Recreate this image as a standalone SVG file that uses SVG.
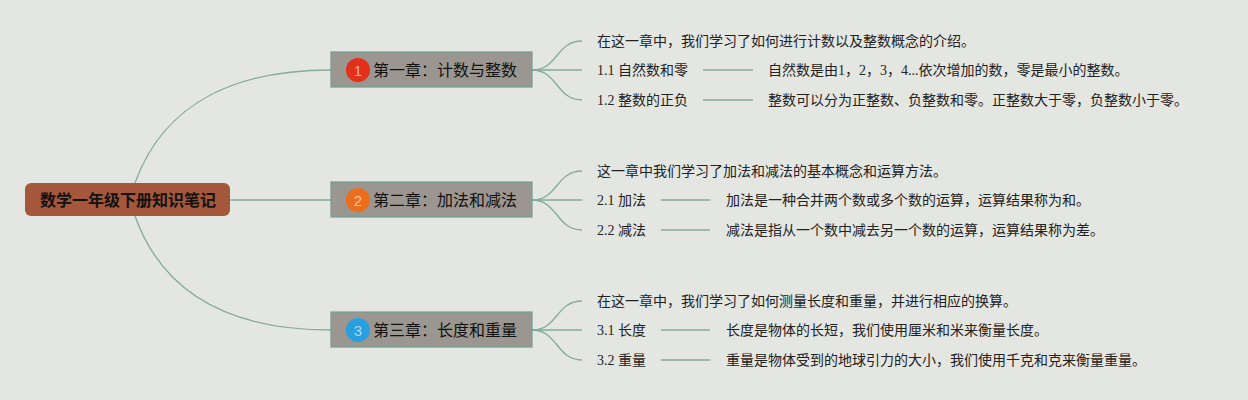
<svg xmlns="http://www.w3.org/2000/svg" width="1248" height="400" viewBox="0 0 1248 400">
<style>
.bg{fill:#e4e6e2}
.ln{fill:none;stroke:#82ab9d;stroke-width:1.3}
.root rect{fill:#a5573b}
.root text{font-family:"Noto Sans CJK SC","Noto Sans",sans-serif;font-size:16px;font-weight:bold;fill:#111}
.ch rect{fill:#9b968f;stroke:#6f9e94;stroke-width:1.2}
.ch text.t{font-family:"Noto Sans CJK SC","Noto Sans",sans-serif;font-size:16px;fill:#111}
.ch text.n{font-family:"Liberation Sans",sans-serif;font-size:15px;fill:#ffffff;fill-opacity:0.6;text-anchor:middle}
.lf text{font-family:"Liberation Serif","Noto Sans CJK SC",serif;font-size:14px;fill:#222}
</style>
<rect class="bg" x="0" y="0" width="1248" height="400"/>
<g id="connectors">
<path class="ln" d="M230,200 L331,200"/>
<path class="ln" d="M135,183 C165,100 240,70 331,70"/>
<path class="ln" d="M135,216 C165,300 240,330 331,330"/>
<path class="ln" d="M532,70 C558,70 556,41 582,41"/>
<path class="ln" d="M532,70 L582,70"/>
<path class="ln" d="M532,70 C558,70 556,100 582,100"/>
<path class="ln" d="M703,70 L753,70"/>
<path class="ln" d="M703,100 L753,100"/>
<path class="ln" d="M532,200 C558,200 556,171 582,171"/>
<path class="ln" d="M532,200 L582,200"/>
<path class="ln" d="M532,200 C558,200 556,230 582,230"/>
<path class="ln" d="M661,200 L710,200"/>
<path class="ln" d="M661,230 L710,230"/>
<path class="ln" d="M532,330 C558,330 556,301 582,301"/>
<path class="ln" d="M532,330 L582,330"/>
<path class="ln" d="M532,330 C558,330 556,360 582,360"/>
<path class="ln" d="M661,330 L710,330"/>
<path class="ln" d="M661,360 L710,360"/>
</g>
<g id="root" class="root">
<rect x="25" y="183" width="205" height="33" rx="6"/>
<text x="128" y="206" text-anchor="middle">数学一年级下册知识笔记</text>
</g>
<g id="ch1" class="ch">
<rect x="331" y="52" width="201" height="35"/>
<circle cx="358" cy="70" r="12" fill="#e2301b"/>
<text class="n" x="358" y="75.5">1</text>
<text class="t" x="373" y="75.5">第一章：计数与整数</text>
</g>
<g id="ch2" class="ch">
<rect x="331" y="182" width="201" height="35"/>
<circle cx="358" cy="200" r="12" fill="#ec6e1c"/>
<text class="n" x="358" y="205.5">2</text>
<text class="t" x="373" y="205.5">第二章：加法和减法</text>
</g>
<g id="ch3" class="ch">
<rect x="331" y="312" width="201" height="35"/>
<circle cx="358" cy="330" r="12" fill="#2a9fe0"/>
<text class="n" x="358" y="335.5">3</text>
<text class="t" x="373" y="335.5">第三章：长度和重量</text>
</g>
<g id="ch1-intro" class="lf"><text x="597" y="46">在这一章中，我们学习了如何进行计数以及整数概念的介绍。</text></g>
<g id="n1-1" class="lf"><text x="597" y="75">1.1 自然数和零</text></g>
<g id="n1-1d" class="lf"><text x="768" y="75">自然数是由1，2，3，4...依次增加的数，零是最小的整数。</text></g>
<g id="n1-2" class="lf"><text x="597" y="105">1.2 整数的正负</text></g>
<g id="n1-2d" class="lf"><text x="768" y="105">整数可以分为正整数、负整数和零。正整数大于零，负整数小于零。</text></g>
<g id="ch2-intro" class="lf"><text x="597" y="176">这一章中我们学习了加法和减法的基本概念和运算方法。</text></g>
<g id="n2-1" class="lf"><text x="597" y="205">2.1 加法</text></g>
<g id="n2-1d" class="lf"><text x="726" y="205">加法是一种合并两个数或多个数的运算，运算结果称为和。</text></g>
<g id="n2-2" class="lf"><text x="597" y="235">2.2 减法</text></g>
<g id="n2-2d" class="lf"><text x="726" y="235">减法是指从一个数中减去另一个数的运算，运算结果称为差。</text></g>
<g id="ch3-intro" class="lf"><text x="597" y="306">在这一章中，我们学习了如何测量长度和重量，并进行相应的换算。</text></g>
<g id="n3-1" class="lf"><text x="597" y="335">3.1 长度</text></g>
<g id="n3-1d" class="lf"><text x="726" y="335">长度是物体的长短，我们使用厘米和米来衡量长度。</text></g>
<g id="n3-2" class="lf"><text x="597" y="365">3.2 重量</text></g>
<g id="n3-2d" class="lf"><text x="726" y="365">重量是物体受到的地球引力的大小，我们使用千克和克来衡量重量。</text></g>
</svg>
